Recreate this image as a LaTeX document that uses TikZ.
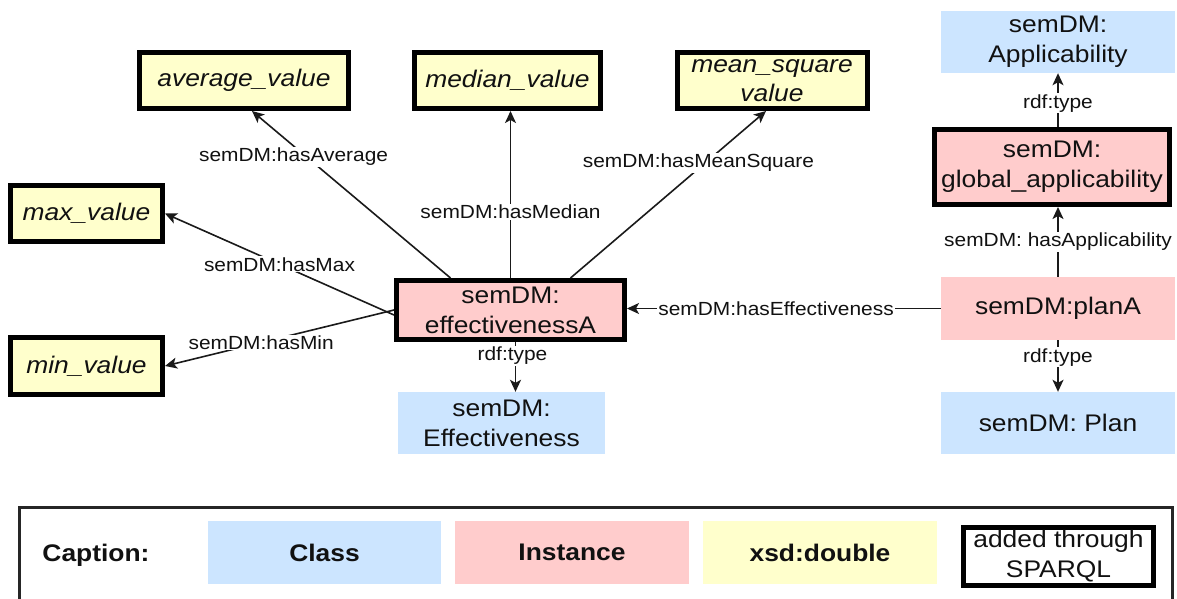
\documentclass[tikz,border=0pt]{standalone}
\usepackage{fontspec}
\setmainfont{Liberation Sans}[FakeStretch=1.1]
\usetikzlibrary{arrows.meta,calc}
\definecolor{clsblue}{HTML}{CCE5FF}
\definecolor{inspink}{HTML}{FFCCCC}
\definecolor{dblyellow}{HTML}{FFFFCC}
\definecolor{ink}{HTML}{111111}
\definecolor{edgecol}{HTML}{1A1A1A}
\tikzset{
  base/.style={rectangle, inner sep=0pt, align=center, text=ink, font=\fontsize{24}{30}\selectfont},
  thickbox/.style={base, draw=black, line width=5pt},
  clsbox/.style={base, fill=clsblue},
  insbox/.style={base, fill=inspink},
  dblbox/.style={thickbox, fill=dblyellow, font=\fontsize{24}{29}\selectfont\itshape},
  edge/.style={draw=edgecol, line width=1.6pt, -{Stealth[length=12pt,width=11pt,inset=3pt]}},
  lbl/.style={fill=white, inner sep=1pt, text=ink, font=\fontsize{19}{22}\selectfont},
}
\begin{document}
\begin{tikzpicture}[x=1pt,y=-1pt]
\path[use as bounding box] (0,0) rectangle (1177,598);
\clip (0,0) rectangle (1177,598);
\fill[white] (0,0) rectangle (1177,598);

% value nodes
\node[dblbox, minimum width=209pt, minimum height=56pt] (avg) at (244,80.5) {average\_value};
\node[dblbox, minimum width=186pt, minimum height=56pt] (med) at (507.5,80.5) {median\_value};
\node[dblbox, minimum width=190pt, minimum height=56pt] (msq) at (772,80.5) {\raisebox{-3pt}{mean\_square}\\\raisebox{-3pt}{value}};
\node[dblbox, minimum width=152pt, minimum height=56pt] (max) at (86.5,213.5) {max\_value};
\node[dblbox, minimum width=152pt, minimum height=57pt] (min) at (86.5,366) {min\_value};

% instances
\node[thickbox, fill=inspink, minimum width=228pt, minimum height=59pt] (effA) at (510.5,310) {\raisebox{-2pt}{semDM:}\\\raisebox{-2pt}{effectivenessA}};
\node[thickbox, fill=inspink, minimum width=235pt, minimum height=75pt] (glob) at (1052,167) {semDM:\\global\_applicability};
\node[insbox, minimum width=234pt, minimum height=63pt] (planA) at (1058,308.5) {semDM:planA};

% classes
\node[clsbox, minimum width=207pt, minimum height=62pt] (eff) at (501.5,423) {semDM:\\Effectiveness};
\node[clsbox, minimum width=234pt, minimum height=62pt] (appl) at (1058,42) {semDM:\\Applicability};
\node[clsbox, minimum width=234pt, minimum height=62pt] (plan) at (1058,423) {semDM: Plan};

% edges
\draw[edge] ([xshift=-60pt]effA.north) -- node[lbl,pos=0.725,xshift=-13pt]{semDM:hasAverage} ([xshift=8pt]avg.south);
\draw[edge] (effA.north) -- node[lbl,pos=0.395]{semDM:hasMedian} (effA.north |- med.south);
\draw[edge] ([xshift=60pt]effA.north) -- node[lbl,pos=0.69,xshift=-7pt]{semDM:hasMeanSquare} ([xshift=-6pt]msq.south);
\draw[edge] ([yshift=-5pt]effA.west) -- node[lbl,pos=0.5]{semDM:hasMax} (max.east);
\draw[edge] (effA.west) -- node[lbl,pos=0.58]{semDM:hasMin} (min.east);
\draw[edge] ([xshift=5pt]effA.south) -- node[lbl,pos=0.28,xshift=-3pt]{rdf:type} ([xshift=5pt]effA.south |- eff.north);
\draw[edge] (planA.west) -- node[lbl,pos=0.525]{semDM:hasEffectiveness} (planA.west -| effA.east);
\draw[edge] (planA.north) -- node[lbl,pos=0.5]{semDM: hasApplicability} (planA.north |- glob.south);
\draw[edge] (planA.north |- glob.north) -- node[lbl,pos=0.44]{rdf:type} (appl.south);
\draw[edge] (planA.south) -- node[lbl,pos=0.33]{rdf:type} (plan.north);

% legend
\node[draw=black!85, line width=3pt, minimum width=1153pt, minimum height=140pt, inner sep=0pt] (legend) at (595.5,577) {};
\node[base, font=\fontsize{24}{28}\selectfont\bfseries] (cap) at (96,555) {Caption:};
\node[clsbox, minimum width=233pt, minimum height=63pt, font=\fontsize{24}{28}\selectfont\bfseries] (lcls) at (324.5,552.5) {Class};
\node[insbox, minimum width=234pt, minimum height=63pt, font=\fontsize{24}{28}\selectfont\bfseries] (lins) at (572,552.5) {Instance};
\node[base, fill=dblyellow, minimum width=234pt, minimum height=63pt, font=\fontsize{24}{28}\selectfont\bfseries] (ldbl) at (820,552.5) {xsd:double};
\node[thickbox, fill=white, minimum width=190pt, minimum height=58pt] (lspq) at (1058.5,556.5) {\raisebox{-3pt}{added through}\\\raisebox{-3pt}{SPARQL}};
\end{tikzpicture}
\end{document}
